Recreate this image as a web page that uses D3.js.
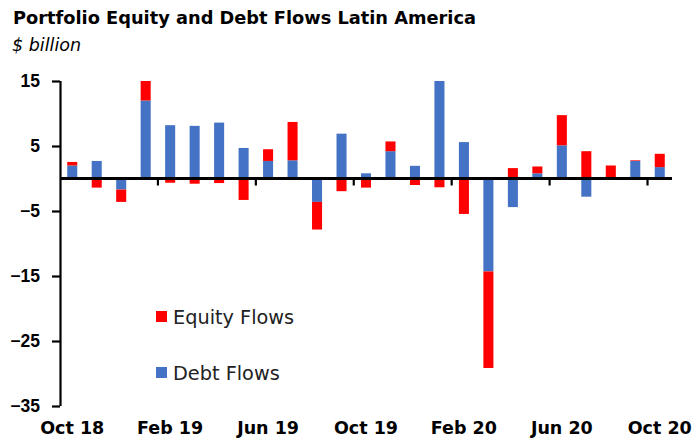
<!DOCTYPE html>
<html>
<head>
<meta charset="utf-8">
<script src="https://cdn.jsdelivr.net/npm/d3@7"></script>
<style>
  html, body { margin: 0; padding: 0; background: #fff; }
  svg { display: block; font-family: "DejaVu Sans", sans-serif; }
</style>
</head>
<body>
<svg id="chart" width="695" height="441"></svg>
<script>
// Monthly portfolio flows, Oct 2018 – Oct 2020 ($ billion)
const months = [
  "Oct 18","Nov 18","Dec 18","Jan 19","Feb 19","Mar 19","Apr 19","May 19",
  "Jun 19","Jul 19","Aug 19","Sep 19","Oct 19","Nov 19","Dec 19","Jan 20",
  "Feb 20","Mar 20","Apr 20","May 20","Jun 20","Jul 20","Aug 20","Sep 20","Oct 20"
];
const debtFlows = [
  2.0, 2.7, -1.7, 12.0, 8.2, 8.1, 8.6, 4.7,
  2.7, 2.8, -3.6, 6.9, 0.8, 4.2, 1.95, 15.0,
  5.6, -14.3, -4.4, 0.8, 5.1, -2.8, 0.0, 2.7, 1.75
];
const equityFlows = [
  0.55, -1.4, -1.9, 3.0, -0.65, -0.8, -0.7, -3.3,
  1.8, 5.9, -4.25, -1.95, -1.4, 1.5, -1.0, -1.35,
  -5.45, -14.85, 1.6, 1.05, 4.65, 4.2, 2.0, 0.1, 2.05
];
const yTicks = [15, 5, -5, -15, -25, -35];
const labelMonths = ["Oct 18","Feb 19","Jun 19","Oct 19","Feb 20","Jun 20","Oct 20"];

const seriesKeys = ["debt", "equity"];
const seriesNames = { debt: "Debt Flows", equity: "Equity Flows" };
const colors = { debt: "#4472C4", equity: "#FF0000" };

const rows = months.map((m, i) => ({ month: m, debt: debtFlows[i], equity: equityFlows[i] }));

const svg = d3.select("#chart");
const margin = { left: 60, right: 23, top: 81, bottom: 35 };
const W = 695, H = 441;

const x = d3.scaleBand()
  .domain(months)
  .range([margin.left, W - margin.right])
  .paddingInner(0.59)
  .paddingOuter(0.295);

const y = d3.scaleLinear()
  .domain([-35, 15])
  .range([H - margin.bottom, margin.top]);

const stacked = d3.stack()
  .keys(seriesKeys)
  .offset(d3.stackOffsetDiverging)(rows);

// Bars
svg.append("g")
  .selectAll("g")
  .data(stacked)
  .join("g")
  .attr("fill", d => colors[d.key])
  .selectAll("rect")
  .data(d => d)
  .join("rect")
  .attr("x", d => x(d.data.month))
  .attr("width", x.bandwidth())
  .attr("y", d => y(Math.max(d[0], d[1])))
  .attr("height", d => Math.abs(y(d[0]) - y(d[1])));

// Y axis
const yAxis = svg.append("g")
  .attr("transform", `translate(${margin.left},0)`)
  .call(d3.axisLeft(y).tickValues(yTicks).tickSize(8).tickPadding(12).tickFormat(d3.format("d")));
yAxis.select(".domain").attr("stroke", "#000").attr("stroke-width", 2.2)
  .attr("d", `M0.5,${y(15)}V${y(-35)}`);
yAxis.selectAll(".tick line").attr("stroke", "#000").attr("stroke-width", 2.2);
yAxis.selectAll(".tick text")
  .attr("fill", "#000")
  .style("font-size", "17.5px")
  .style("font-weight", "bold");

// Zero line with category ticks every four months
const step = x.step();
const xStart = margin.left;
const xEnd = W - margin.right;
const zeroG = svg.append("g");
const boundaryIdx = d3.range(4, months.length + 1, 4);
zeroG.selectAll("line.tk")
  .data(boundaryIdx)
  .join("line")
  .attr("class", "tk")
  .attr("x1", i => xStart + i * step)
  .attr("x2", i => xStart + i * step)
  .attr("y1", y(0))
  .attr("y2", y(0) + 7)
  .attr("stroke", "#000")
  .attr("stroke-width", 2.2);
zeroG.append("line")
  .attr("x1", xStart)
  .attr("x2", xEnd)
  .attr("y1", y(0))
  .attr("y2", y(0))
  .attr("stroke", "#000")
  .attr("stroke-width", 2.8);

// Month labels along the bottom
svg.append("g")
  .selectAll("text")
  .data(labelMonths)
  .join("text")
  .attr("x", d => x(d) + x.bandwidth() / 2)
  .attr("y", 434)
  .attr("text-anchor", "middle")
  .style("font-size", "17.5px")
  .style("font-weight", "bold")
  .text(d => d);

// Title and unit
svg.append("text")
  .attr("x", 13)
  .attr("y", 24)
  .style("font-size", "17.8px")
  .style("font-weight", "bold")
  .text("Portfolio Equity and Debt Flows Latin America");
svg.append("text")
  .attr("x", 12)
  .attr("y", 51)
  .style("font-size", "17.5px")
  .style("font-style", "italic")
  .text("$ billion");

// Legend
const legendItems = ["equity", "debt"];
const lg = svg.append("g").attr("transform", "translate(156,311)");
const li = lg.selectAll("g")
  .data(legendItems)
  .join("g")
  .attr("transform", (d, i) => `translate(0,${i * 56})`);
li.append("rect")
  .attr("width", 11)
  .attr("height", 11)
  .attr("fill", d => colors[d]);
li.append("text")
  .attr("x", 17)
  .attr("y", 13)
  .style("font-size", "19.3px")
  .attr("fill", "#222")
  .text(d => seriesNames[d]);
</script>
</body>
</html>
